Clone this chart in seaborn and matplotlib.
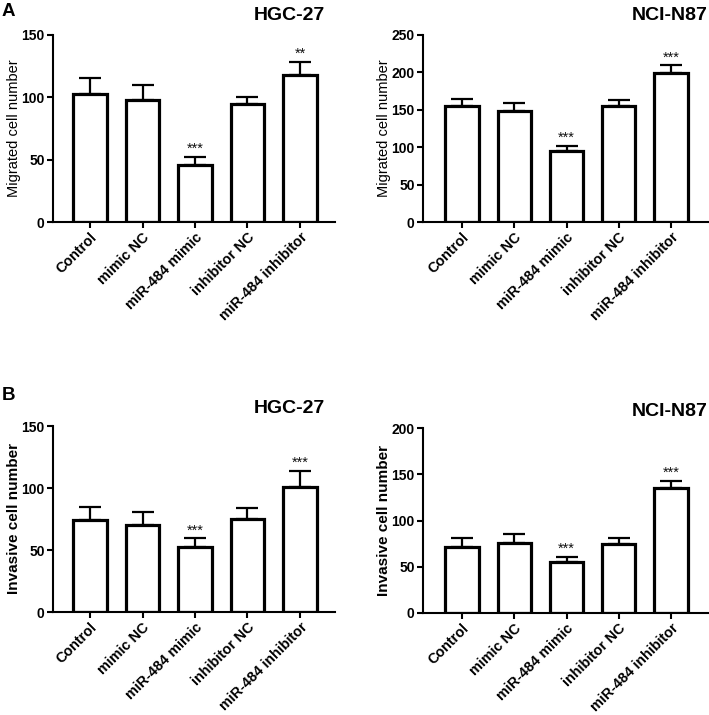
import matplotlib
matplotlib.use("Agg")
import matplotlib.pyplot as plt
import seaborn as sns
import pandas as pd

sns.set_style("ticks")
plt.rcParams['font.family'] = ['Liberation Sans', 'DejaVu Sans']
plt.rcParams['text.color'] = 'black'
plt.rcParams['axes.labelcolor'] = 'black'
plt.rcParams['xtick.color'] = 'black'
plt.rcParams['ytick.color'] = 'black'
plt.rcParams['axes.edgecolor'] = 'black'

categories = ["Control", "mimic NC", "miR-484 mimic", "inhibitor NC", "miR-484 inhibitor"]

mig_hgc_mean = [102.5, 98, 45.5, 94.5, 118]
mig_hgc_err = [13, 11.5, 7, 6, 10.5]
mig_hgc_sig = ["", "", "***", "", "**"]

mig_nci_mean = [155, 149, 95.5, 154.5, 199]
mig_nci_err = [10, 9.5, 6.5, 8.5, 11]
mig_nci_sig = ["", "", "***", "", "***"]

inv_hgc_mean = [74.5, 70, 52.3, 75, 101]
inv_hgc_err = [10, 11, 7.5, 9, 13]
inv_hgc_sig = ["", "", "***", "", "***"]

inv_nci_mean = [71.5, 75.7, 55.5, 75, 135]
inv_nci_err = [9.5, 10, 5.5, 6, 8]
inv_nci_sig = ["", "", "***", "", "***"]

W, H = 709, 715
fig = plt.figure(figsize=(W / 100, H / 100), dpi=100)


def rect(l, r, t, b):
    return [l / W, (H - b) / H, (r - l) / W, (b - t) / H]


panels = [
    (rect(53, 335, 35, 222), mig_hgc_mean, mig_hgc_err, mig_hgc_sig, 150, [0, 50, 100, 150],
     "Migrated cell number", "HGC-27", (-0.705, 4.667), "normal", 10.5, 20, 10),
    (rect(423, 708, 35, 222), mig_nci_mean, mig_nci_err, mig_nci_sig, 250, [0, 50, 100, 150, 200, 250],
     "Migrated cell number", "NCI-N87", (-0.75, 4.71), "normal", 10.5, 20, 0),
    (rect(53, 335, 426, 612), inv_hgc_mean, inv_hgc_err, inv_hgc_sig, 150, [0, 50, 100, 150],
     "Invasive cell number", "HGC-27", (-0.705, 4.667), "bold", 11, 18, 10),
    (rect(423, 708, 428, 613), inv_nci_mean, inv_nci_err, inv_nci_sig, 200, [0, 50, 100, 150, 200],
     "Invasive cell number", "NCI-N87", (-0.75, 4.71), "bold", 11, 16, 0),
]

for (r, means, errs, sigs, ymax, yticks, ylabel, title, xlim, ylw, ylfs, toff, tright) in panels:
    ax = fig.add_axes(r)
    df = pd.DataFrame({"group": categories, "value": means})
    sns.barplot(data=df, x="group", y="value", ax=ax, color="white",
                edgecolor="black", linewidth=2.3, width=0.64, errorbar=None,
                order=categories)
    xs = [p.get_x() + p.get_width() / 2 for p in ax.patches][:len(categories)]
    ax.errorbar(xs, means, yerr=[[0] * len(errs), errs], fmt="none",
                ecolor="black", elinewidth=1.6, capsize=8, capthick=1.6, zorder=1)
    for x, m, e, s in zip(xs, means, errs, sigs):
        if s:
            ax.text(x, m + e + ymax * 0.003, s, ha="center", va="bottom",
                    fontsize=10.5, color="#111111")
    ax.set_ylim(0, ymax)
    ax.set_xlim(*xlim)
    ax.set_yticks(yticks)
    ax.set_yticklabels([str(t) for t in yticks], fontsize=10, fontweight="bold")
    ax.set_xticks(range(len(categories)))
    ax.set_xticklabels(categories, rotation=45, ha="right", rotation_mode="anchor",
                       fontsize=10.4, fontweight="bold")
    ax.set_xlabel("")
    ax.set_ylabel(ylabel, fontsize=ylfs, fontweight=ylw, labelpad=0.5)
    sns.despine(ax=ax)
    for sp in ["left", "bottom"]:
        ax.spines[sp].set_linewidth(1.5)
    ax.tick_params(axis="both", width=1.5, length=4, direction="out", pad=2, colors="black")
    bbox_w = r[2] * W
    bbox_h = r[3] * H
    ax.text(1.0 - tright / bbox_w, 1.0 + toff / bbox_h, title, transform=ax.transAxes,
            ha="right", va="center", fontsize=14, fontweight="bold")

fig.text(2 / W, 1 - 12 / H, "A", fontsize=13.5, fontweight="bold", va="center", ha="left")
fig.text(2 / W, 1 - 396 / H, "B", fontsize=13.5, fontweight="bold", va="center", ha="left")

fig.savefig("out.png", dpi=100)
